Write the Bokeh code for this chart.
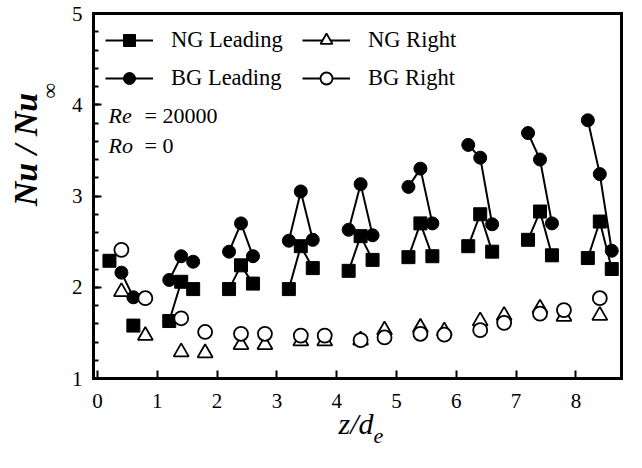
from bokeh.plotting import figure
from bokeh.models import (Range1d, SingleIntervalTicker, FixedTicker, LinearAxis,
                          Label, Legend, LegendItem)
from bokeh.embed import file_html
from bokeh.resources import INLINE
import math

FONT = "Liberation Serif"
NAN = float("nan")

# ---- data ----
ng_lead_z = [0.2, 0.6, 1.2, 1.4, 1.6, 2.2, 2.4, 2.6, 3.2, 3.4, 3.6, 4.2, 4.4, 4.6,
             5.2, 5.4, 5.6, 6.2, 6.4, 6.6, 7.2, 7.4, 7.6, 8.2, 8.4, 8.6]
ng_lead_nu = [2.29, 1.58, 1.63, 2.06, 1.98, 1.98, 2.24, 2.04, 1.98, 2.45, 2.21, 2.18, 2.56, 2.30,
              2.33, 2.70, 2.34, 2.45, 2.80, 2.39, 2.52, 2.83, 2.35, 2.32, 2.72, 2.20]
ng_lead_grp = [0, 1, 2, 2, 2, 3, 3, 3, 4, 4, 4, 5, 5, 5,
               6, 6, 6, 7, 7, 7, 8, 8, 8, 9, 9, 9]

bg_lead_z = [0.4, 0.6, 1.2, 1.4, 1.6, 2.2, 2.4, 2.6, 3.2, 3.4, 3.6, 4.2, 4.4, 4.6,
             5.2, 5.4, 5.6, 6.2, 6.4, 6.6, 7.2, 7.4, 7.6, 8.2, 8.4, 8.6]
bg_lead_nu = [2.16, 1.89, 2.08, 2.34, 2.28, 2.39, 2.70, 2.34, 2.51, 3.05, 2.52, 2.63, 3.13, 2.57,
              3.10, 3.30, 2.70, 3.56, 3.42, 2.69, 3.69, 3.40, 2.70, 3.83, 3.24, 2.40]
bg_lead_grp = [1, 1, 2, 2, 2, 3, 3, 3, 4, 4, 4, 5, 5, 5,
               6, 6, 6, 7, 7, 7, 8, 8, 8, 9, 9, 9]

ng_right_z = [0.4, 0.8, 1.4, 1.8, 2.4, 2.8, 3.4, 3.8, 4.4, 4.8, 5.4, 5.8, 6.4, 6.8, 7.4, 7.8, 8.4]
ng_right_nu = [1.95, 1.47, 1.29, 1.28, 1.37, 1.37, 1.41, 1.41, 1.42, 1.53, 1.56, 1.52, 1.63, 1.69,
               1.77, 1.68, 1.69]

bg_right_z = [0.4, 0.8, 1.4, 1.8, 2.4, 2.8, 3.4, 3.8, 4.4, 4.8, 5.4, 5.8, 6.4, 6.8, 7.4, 7.8, 8.4]
bg_right_nu = [2.41, 1.88, 1.66, 1.51, 1.49, 1.49, 1.47, 1.47, 1.42, 1.45, 1.49, 1.48, 1.53, 1.61,
               1.71, 1.75, 1.88]

legend_labels = ["NG Leading", "NG Right", "BG Leading", "BG Right"]

# axis box limits (data units)
X_LO, X_HI = -0.067, 8.763
Y_LO, Y_HI = 1.0, 5.0


def segments(z, v, g):
    xs, ys = [], []
    for gid in sorted(set(g)):
        px = [a for a, k in zip(z, g) if k == gid]
        py = [b for b, k in zip(v, g) if k == gid]
        if len(px) > 1:
            xs.append(px)
            ys.append(py)
    return xs, ys


W, H = 624, 450
p = figure(width=W, height=H, output_backend="svg", toolbar_location=None,
           x_range=Range1d(-1.622, 8.813), y_range=Range1d(0.211, 5.1425),
           min_border_left=0, min_border_right=0, min_border_top=0, min_border_bottom=0)

p.xgrid.grid_line_color = None
p.ygrid.grid_line_color = None
p.outline_line_color = None
p.background_fill_color = "white"
p.border_fill_color = "white"

# main axes drawn at the box edges
xa = p.xaxis[0]
ya = p.yaxis[0]
xa.fixed_location = Y_LO
xa.bounds = (X_LO, X_HI)
ya.fixed_location = X_LO
ya.bounds = (Y_LO, Y_HI)
xa.ticker = SingleIntervalTicker(interval=1, num_minor_ticks=0)
ya.ticker = SingleIntervalTicker(interval=1, num_minor_ticks=5)
for ax in (xa, ya):
    ax.axis_line_width = 3
    ax.axis_line_color = "black"
    ax.axis_line_cap = "square"
    ax.major_tick_in = 8
    ax.major_tick_out = 0
    ax.minor_tick_in = 5
    ax.minor_tick_out = 0
    ax.major_tick_line_width = 2
    ax.minor_tick_line_width = 2
    ax.major_tick_line_color = "black"
    ax.minor_tick_line_color = "black"
    ax.major_label_text_font = FONT
    ax.major_label_text_font_size = "21px"
    ax.major_label_text_color = "black"
xa.minor_tick_line_color = None
xa.major_label_standoff = 15
ya.major_label_standoff = 11

# top and right edges of the box
top = LinearAxis(fixed_location=Y_HI, bounds=(X_LO, X_HI), ticker=FixedTicker(ticks=[]),
                 axis_line_width=3, axis_line_cap="square")
right = LinearAxis(fixed_location=X_HI, bounds=(Y_LO, Y_HI), ticker=FixedTicker(ticks=[]),
                   axis_line_width=3, axis_line_cap="square")
p.add_layout(top, "above")
p.add_layout(right, "right")

# lines
xs, ys = segments(ng_lead_z, ng_lead_nu, ng_lead_grp)
ng_lead_line = p.multi_line(xs=xs, ys=ys, line_color="black", line_width=2)
xs, ys = segments(bg_lead_z, bg_lead_nu, bg_lead_grp)
bg_lead_line = p.multi_line(xs=xs, ys=ys, line_color="black", line_width=2)
# legend-only line samples for the open-symbol series (no connecting lines in the plot)
ng_right_line = p.multi_line(xs=[[NAN, NAN]], ys=[[NAN, NAN]], line_color="black", line_width=2)
bg_right_line = p.multi_line(xs=[[NAN, NAN]], ys=[[NAN, NAN]], line_color="black", line_width=2)

# markers
ng_lead_pts = p.scatter(ng_lead_z, ng_lead_nu, marker="square", size=13,
                        fill_color="black", line_color="black")
bg_lead_pts = p.scatter(bg_lead_z, bg_lead_nu, marker="circle", size=13,
                        fill_color="black", line_color="black")
ng_right_pts = p.scatter(ng_right_z, ng_right_nu, marker="triangle", size=15,
                         fill_color="white", line_color="black", line_width=1.8)
bg_right_pts = p.scatter(bg_right_z, bg_right_nu, marker="circle", size=14,
                         fill_color="white", line_color="black", line_width=1.8)

legend = Legend(items=[
    LegendItem(label=legend_labels[0], renderers=[ng_lead_line, ng_lead_pts]),
    LegendItem(label=legend_labels[2], renderers=[bg_lead_line, bg_lead_pts]),
    LegendItem(label=legend_labels[1], renderers=[ng_right_line, ng_right_pts]),
    LegendItem(label=legend_labels[3], renderers=[bg_right_line, bg_right_pts]),
], ncols=2, location=(105, 357))
legend.border_line_color = None
legend.background_fill_alpha = 0
legend.label_text_font = FONT
legend.label_text_font_size = "22.5px"
legend.label_text_color = "black"
legend.glyph_width = 48
legend.glyph_height = 30
legend.label_height = 30
legend.label_width = 123
legend.label_standoff = 18
legend.spacing = 8
legend.padding = 0
legend.margin = 0
p.add_layout(legend)


def lab(x, y, text, size, style="normal", angle=0.0, align="left"):
    p.add_layout(Label(x=x, y=y, x_units="screen", y_units="screen", text=text,
                       text_font=FONT, text_font_size=size, text_font_style=style,
                       text_color="black", angle=angle, text_align=align,
                       text_baseline="alphabetic"))


# Re / Ro annotation
lab(108, 335, "Re", "22px", "italic")
lab(144, 335, "= 20000", "22px")
lab(108, 305, "Ro", "22px", "italic")
lab(144, 305, "= 0", "22px")

# y axis title: Nu / Nu_inf
lab(25, 301, "Nu / Nu", "34px", "bold italic", angle=math.pi / 2, align="center")
lab(49, 352, "\u221e", "22px", "normal", angle=math.pi / 2, align="left")

# x axis title: z / d_e
lab(338, 27, "z/d", "30px", "italic")
lab(373, 15, "e", "22px", "italic")

open("out.html", "w").write(file_html(p, INLINE))
